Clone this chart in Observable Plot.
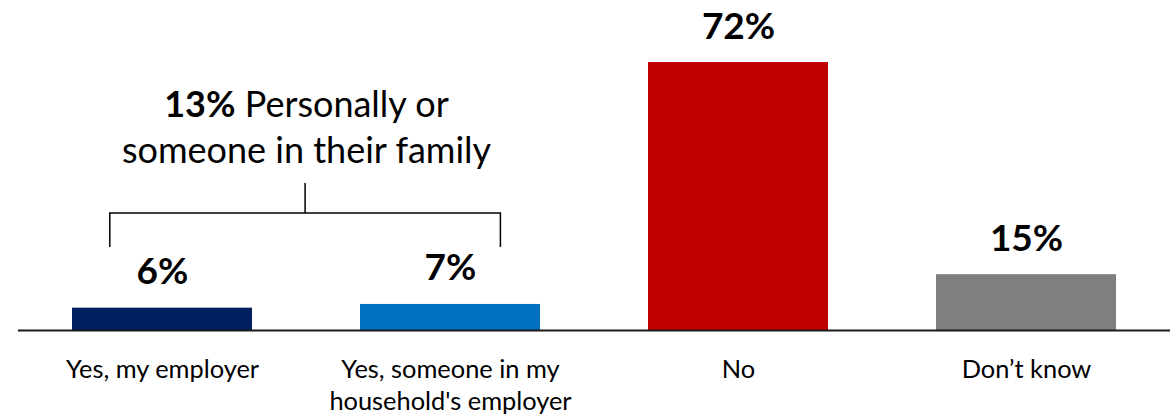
<!DOCTYPE html>
<html><head><meta charset="utf-8">
<script src="https://cdn.jsdelivr.net/npm/d3@7"></script>
<script src="https://cdn.jsdelivr.net/npm/@observablehq/plot@0.6"></script>
<style>
html,body{margin:0;padding:0;background:#fff;}
#chart svg{display:block;}
</style></head><body><div id="chart"></div>
<script>
const categories = ["Yes, my employer", "Yes, someone in my household's employer", "No", "Don’t know"];
const categoryLabels = ["Yes, my employer", "Yes, someone in my\nhousehold's employer", "No", "Don’t know"];
const values = [6, 7, 72, 15];
const colors = ["#002060", "#0070C0", "#C00000", "#7F7F7F"];
const groupValue = 13;
const groupText = "Personally or\nsomeone in their family";
const groupMembers = [categories[0], categories[1]];

const data = categories.map((c, i) => ({cat: c, label: categoryLabels[i], value: values[i], color: colors[i]}));
const annotation = [{cat: groupMembers[0], text: groupValue + "% " + groupText}];
const FONT = "Lato, 'Open Sans', sans-serif";

function bracket(index, scales) {
  const {x, y} = scales;
  const bw = x.bandwidth();
  const c1 = x(groupMembers[0]) + bw / 2, c2 = x(groupMembers[1]) + bw / 2;
  const xl = c1 - 0.29 * bw, xr = c2 + 0.28 * bw, xm = (xl + xr) / 2;
  const yTop = y(39.5), yBar = y(31.4), yTick = y(22.3);
  const g = d3.create("svg:g").attr("fill", "none").attr("stroke", "#000").attr("stroke-width", 1.5);
  g.append("path").attr("d", `M${xl},${yTick}V${yBar}H${xr}V${yTick}M${xm},${yBar}V${yTop}`);
  return g.node();
}

const chart = Plot.plot({
  width: 1171,
  height: 419,
  marginLeft: 18,
  marginRight: 1,
  marginTop: 62,
  marginBottom: 89,
  style: {fontFamily: FONT, background: "#fff", color: "#000"},
  x: {domain: categories, type: "band", paddingInner: 0.375, paddingOuter: 0.1875, axis: null},
  y: {domain: [0, 72], axis: null},
  color: {type: "identity"},
  marks: [
    Plot.barY(data, {x: "cat", y: "value", fill: "color"}),
    Plot.ruleY([0], {stroke: "#1a1a1a", strokeWidth: 2}),
    Plot.text(data, {x: "cat", y: "value", text: d => d.value + "%", dy: -24, lineAnchor: "bottom", fontSize: 37, fontWeight: "bold", fill: "#000"}),
    Plot.text(data, {x: "cat", y: 0, text: "label", lineAnchor: "top", dy: 25, fontSize: 25.4, lineHeight: 1.26, fill: "#000"}),
    Plot.text(annotation, {x: "cat", y: () => 45.1, dx: 144, text: "text", lineAnchor: "bottom", fontSize: 36, lineHeight: 1.27, fill: "#000"}),
    bracket
  ]
});
document.getElementById("chart").appendChild(chart);

// bold the group percentage
d3.select(chart).selectAll("text").each(function() {
  const first = this.querySelector("tspan");
  if (first && first.textContent.startsWith(groupValue + "%")) {
    const rest = first.textContent.slice((groupValue + "%").length);
    first.textContent = "";
    const b = document.createElementNS("http://www.w3.org/2000/svg", "tspan");
    b.setAttribute("font-weight", "bold");
    b.textContent = groupValue + "%";
    const r = document.createElementNS("http://www.w3.org/2000/svg", "tspan");
    r.textContent = rest;
    first.appendChild(b);
    first.appendChild(r);
  }
});
</script></body></html>
